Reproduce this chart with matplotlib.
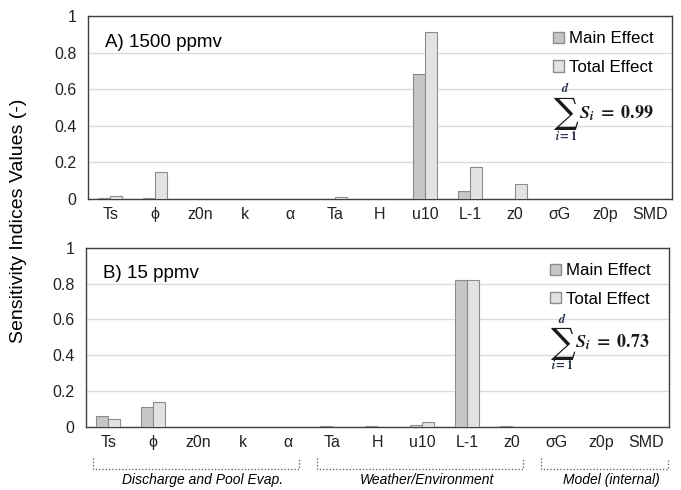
import matplotlib.pyplot as plt
import numpy as np
from matplotlib.patches import Patch

plt.rcParams.update({
    'font.family': 'Liberation Sans',
    'font.size': 11.5,
    'mathtext.fontset': 'stix',
})

# datos
parametros = ['Ts', 'ϕ', 'z0n', 'k', 'α', 'Ta', 'H', 'u10', 'L-1', 'z0', 'σG', 'z0p', 'SMD']
main_a = [0.003, 0.003, 0, 0, 0, 0, 0, 0.683, 0.044, 0, 0, 0, 0]
total_a = [0.017, 0.149, 0, 0, 0, 0.01, 0, 0.913, 0.177, 0.084, 0, 0, 0]
main_b = [0.058, 0.113, 0, 0, 0, 0.003, 0.003, 0.01, 0.82, 0.003, 0, 0, 0]
total_b = [0.045, 0.136, 0, 0, 0, 0, 0, 0.024, 0.82, 0, 0, 0, 0]
titulos = ['A) 1500 ppmv', 'B) 15 ppmv']
sumas = ['0.99', '0.73']
grupos = [('Discharge and Pool Evap.', 0, 4),
          ('Weather/Environment', 5, 9),
          ('Model (internal)', 10, 12)]

c_main = '#c6c6c6'
c_total = '#e2e2e2'
c_borde = '#8c8c8c'

fig = plt.figure(figsize=(6.81, 4.90), dpi=100)
ax1 = fig.add_axes([0.129, 0.594, 0.858, 0.373])
ax2 = fig.add_axes([0.126, 0.129, 0.856, 0.365])

x = np.arange(len(parametros))
w = 0.27
for ax, m, t, tit, s in zip([ax1, ax2], [main_a, main_b], [total_a, total_b], titulos, sumas):
    ax.bar(x - w / 2, m, w, color=c_main, edgecolor=c_borde, linewidth=0.8, zorder=3)
    ax.bar(x + w / 2, t, w, color=c_total, edgecolor=c_borde, linewidth=0.8, zorder=3)
    ax.set_xlim(-0.5, len(parametros) - 0.5)
    ax.set_ylim(0, 1)
    ax.set_yticks([0, 0.2, 0.4, 0.6, 0.8, 1])
    ax.set_yticklabels(['0', '0.2', '0.4', '0.6', '0.8', '1'])
    ax.set_xticks(x)
    ax.set_xticklabels(parametros)
    ax.tick_params(length=0, labelsize=11.5, colors='#222222', pad=6)
    ax.tick_params(axis='y', pad=8)
    ax.grid(axis='y', color='#dcdcdc', linewidth=1, zorder=0)
    for sp in ax.spines.values():
        sp.set_color('#404040')
        sp.set_linewidth(1)
    ax.text(0.03, 0.83, tit, transform=ax.transAxes, fontsize=13.5)
    handles = [Patch(facecolor=c_main, edgecolor=c_borde), Patch(facecolor=c_total, edgecolor=c_borde)]
    ax.legend(handles, ['Main Effect', 'Total Effect'], loc='upper right', frameon=False,
              fontsize=12.2, handlelength=0.65, handleheight=0.65, handletextpad=0.3,
              labelspacing=0.8, bbox_to_anchor=(0.995, 1.0))
    # sumatorio de índices
    ax.text(0.818, 0.47, '∑', transform=ax.transAxes, fontsize=25, ha='center',
            va='center', family='DejaVu Serif', color='#1a1a1a')
    ax.text(0.818, 0.605, r'$\mathbfit{d}$', transform=ax.transAxes, fontsize=9,
            ha='center', va='center', color='#1f2a44')
    ax.text(0.818, 0.34, r'$\mathbfit{i}\mathbf{=1}$', transform=ax.transAxes, fontsize=8.5,
            ha='center', va='center', color='#1f2a44')
    ax.text(0.84, 0.47, r'$\mathbfit{S}_{\mathbfit{i}}\ \mathbf{=\ ' + s + r'}$',
            transform=ax.transAxes, fontsize=13, ha='left', va='center', color='#1a1a1a')

# corchetes de grupos bajo el panel B
tr = ax2.get_xaxis_transform()
for nombre, i0, i1 in grupos:
    x0 = i0 - 0.35 if i0 > 0 else -0.35
    x1 = i1 + 0.25 if i1 < len(parametros) - 1 else i1 + 0.48
    ax2.plot([x0, x0, x1, x1], [-0.175, -0.235, -0.235, -0.175], transform=tr,
             color='#555555', linestyle=':', linewidth=0.9, clip_on=False)
    ax2.text((x0 + x1) / 2 + 0.15, -0.30, nombre, transform=tr, ha='center', va='center',
             style='italic', fontsize=10)

fig.text(0.027, 0.55, 'Sensitivity Indices Values (-)', rotation=90, ha='center',
         va='center', fontsize=14)

plt.savefig('out.png', dpi=100)
